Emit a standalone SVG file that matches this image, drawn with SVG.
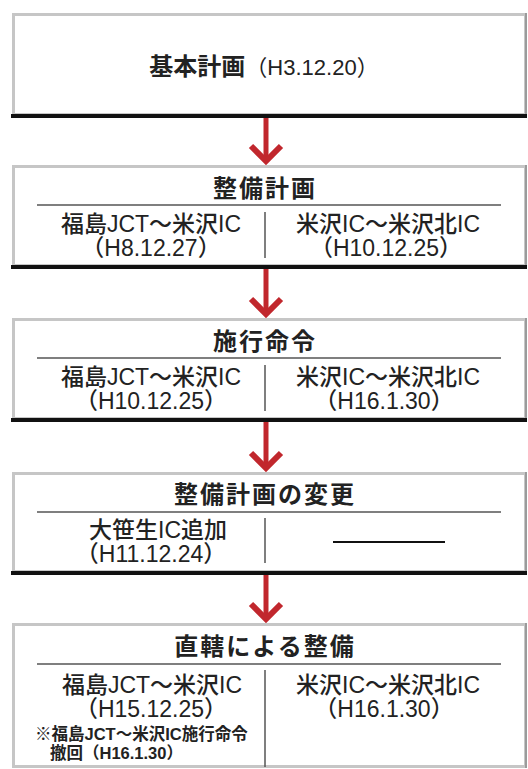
<svg xmlns="http://www.w3.org/2000/svg" width="528" height="769" viewBox="0 0 528 769">
<defs>
<style>
.frame{fill:#ffffff;stroke:#c6c6c6;stroke-width:3}
.redge{stroke:#8c8c8c;stroke-width:1.5}
.base{stroke:#111111;stroke-width:4}
.hdiv{stroke:#555555;stroke-width:1.3}
.vdiv{stroke:#555555;stroke-width:1.5}
.t{font-family:"Liberation Sans","Noto Sans CJK JP",sans-serif;fill:#222222}
.title{font-size:24px;font-weight:700;letter-spacing:2px;text-anchor:middle}
.row{font-size:23px;font-weight:500;text-anchor:middle}
.note{font-size:16.5px;font-weight:700}
.shaft{stroke:#c1272d;stroke-width:5}
.head{fill:none;stroke:#c1272d;stroke-width:6;stroke-linejoin:miter;stroke-miterlimit:6}
</style>
</defs>
<rect x="0" y="0" width="528" height="769" fill="#ffffff"/>

<g id="connectors">
<line class="shaft" x1="266" y1="118" x2="266" y2="158"/>
<polyline class="head" points="251,146 266,161 281,146"/>
<line class="shaft" x1="266" y1="269" x2="266" y2="311"/>
<polyline class="head" points="251,299 266,314 281,299"/>
<line class="shaft" x1="266" y1="422" x2="266" y2="465"/>
<polyline class="head" points="251,453 266,468 281,453"/>
<line class="shaft" x1="266" y1="575" x2="266" y2="616"/>
<polyline class="head" points="251,604 266,619 281,604"/>
</g>

<g id="node-kihon">
<rect class="frame" x="13.5" y="14.5" width="512" height="100"/>
<line class="redge" x1="526" y1="13" x2="526" y2="116"/>
<line class="base" x1="11" y1="116" x2="527" y2="116"/>
<text class="t" x="264" y="75" text-anchor="middle"><tspan font-size="24" font-weight="700">基本計画</tspan><tspan font-size="22">（H3.12.20）</tspan></text>
</g>

<g id="node-seibi">
<rect class="frame" x="13.5" y="166.5" width="512" height="99"/>
<line class="redge" x1="526" y1="165" x2="526" y2="267"/>
<line class="base" x1="11" y1="267" x2="527" y2="267"/>
<text class="t title" x="265" y="197">整備計画</text>
<line class="hdiv" x1="37" y1="205" x2="501" y2="205"/>
<line class="vdiv" x1="265" y1="212" x2="265" y2="258"/>
<text class="t row" x="151" y="232">福島JCT～米沢IC</text>
<text class="t row" x="151" y="256">（H8.12.27）</text>
<text class="t row" x="388" y="232">米沢IC～米沢北IC</text>
<text class="t row" x="386" y="256">（H10.12.25）</text>
</g>

<g id="node-sekou">
<rect class="frame" x="13.5" y="319.5" width="512" height="99"/>
<line class="redge" x1="526" y1="318" x2="526" y2="420"/>
<line class="base" x1="11" y1="420" x2="527" y2="420"/>
<text class="t title" x="265" y="350">施行命令</text>
<line class="hdiv" x1="37" y1="358" x2="501" y2="358"/>
<line class="vdiv" x1="265" y1="365" x2="265" y2="411"/>
<text class="t row" x="151" y="385">福島JCT～米沢IC</text>
<text class="t row" x="151" y="409">（H10.12.25）</text>
<text class="t row" x="388" y="385">米沢IC～米沢北IC</text>
<text class="t row" x="384" y="409">（H16.1.30）</text>
</g>

<g id="node-henkou">
<rect class="frame" x="13.5" y="473.5" width="512" height="98"/>
<line class="redge" x1="526" y1="472" x2="526" y2="573"/>
<line class="base" x1="11" y1="573" x2="527" y2="573"/>
<text class="t title" x="265" y="503">整備計画の変更</text>
<line class="hdiv" x1="37" y1="512" x2="501" y2="512"/>
<line class="vdiv" x1="265" y1="518" x2="265" y2="563"/>
<text class="t row" x="158" y="538">大笹生IC追加</text>
<text class="t row" x="151" y="562">（H11.12.24）</text>
<line x1="333" y1="542" x2="445" y2="542" stroke="#111111" stroke-width="2"/>
</g>

<g id="node-chokkatsu">
<rect class="frame" x="13.5" y="624.5" width="512" height="142"/>
<line class="redge" x1="526" y1="623" x2="526" y2="768"/>
<text class="t title" x="265" y="655">直轄による整備</text>
<line class="hdiv" x1="37" y1="664" x2="501" y2="664"/>
<line class="vdiv" x1="265" y1="670" x2="265" y2="767"/>
<text class="t row" x="152" y="693">福島JCT～米沢IC</text>
<text class="t row" x="151" y="717">（H15.12.25）</text>
<text class="t row" x="388" y="693">米沢IC～米沢北IC</text>
<text class="t row" x="384" y="717">（H16.1.30）</text>
<text class="t note" x="35" y="740">※福島JCT～米沢IC施行命令</text>
<text class="t note" x="50" y="759">撤回（H16.1.30）</text>
</g>
</svg>
